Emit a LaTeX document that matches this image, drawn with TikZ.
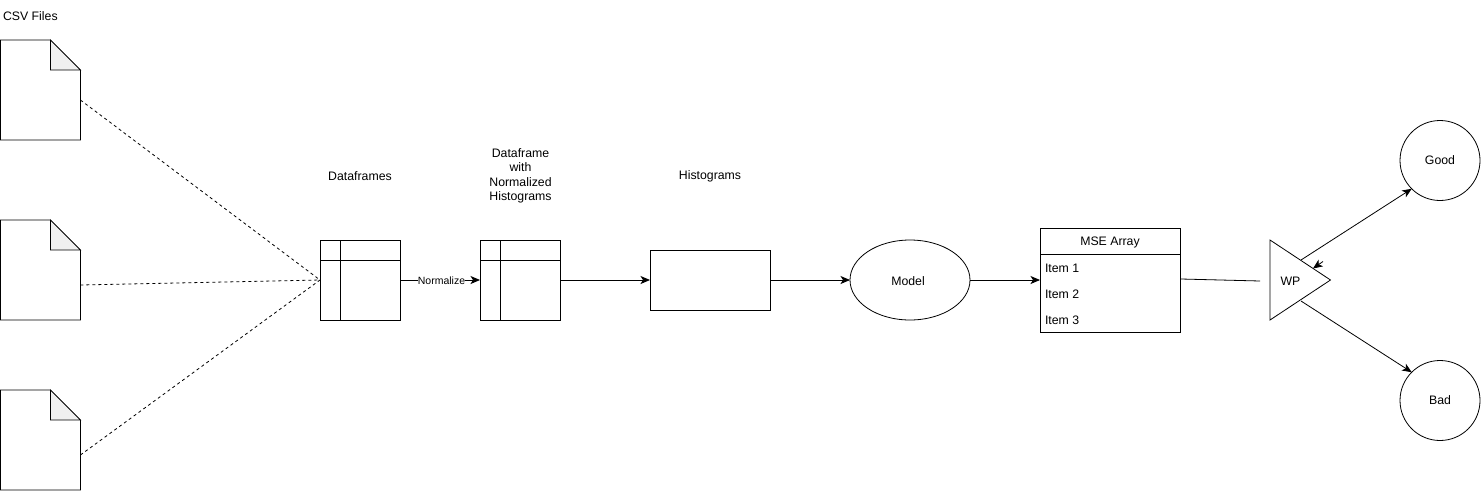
\documentclass[tikz,border=0pt]{standalone}
\usepackage{fontspec}
\setmainfont{Liberation Sans}
\usetikzlibrary{arrows.meta,calc,shapes.geometric}
\tikzset{
  every node/.style={font=\fontsize{12.3}{14.5}\selectfont,inner sep=0pt,outer sep=0pt},
  box/.style={draw,minimum width=#1},
  filebox/.style={minimum width=80,minimum height=100},
  round/.style={draw,circle,minimum size=80},
  flow/.style={-{Stealth[length=9.5pt,width=8pt,inset=2.5pt]}},
  feed/.style={dash pattern=on 3pt off 3pt},
}
\begin{document}
\begin{tikzpicture}[x=1pt,y=-1pt,line width=0.8pt]
\useasboundingbox (0,0) rectangle (1481,491);
\node[anchor=west] (csvlabel) at (3,16.5) {CSV Files};
\foreach \name/\ypos in {csvA/90,csvB/270,csvC/440}{
  \node[filebox] (\name) at (40.4,\ypos) {};
  \draw (\name.south west) -- (\name.north west) -- ($(\name.north east)+(-30,0)$)
    -- ($(\name.north east)+(0,30)$) -- (\name.south east) -- cycle;
  \draw[fill=black!6] ($(\name.north east)+(-30,0)$) -- ($(\name.north east)+(-30,30)$)
    -- ($(\name.north east)+(0,30)$) -- cycle;
}
\node (framelabel) at (360,176) {Dataframes};
\node[align=center] (normlabel) at (520.5,176) {Dataframe\\with\\Normalized\\Histograms};
\node (histlabel) at (710,176) {Histograms};
\foreach \name/\xpos in {frame/360,normframe/520}{
  \node[box=80,minimum height=80] (\name) at (\xpos,280) {};
  \draw ($(\name.north west)+(20,0)$) -- ($(\name.south west)+(20,0)$);
  \draw ($(\name.north west)+(0,20)$) -- ($(\name.north east)+(0,20)$);
}
\node[box=120,minimum height=60] (hist) at (710,280) {};
\node[draw,ellipse,minimum width=120,minimum height=80] (model) at (910,280) {};
\node at (908,281) {Model};
\node[box=140,minimum height=104] (mse) at (1110,280) {};
\draw ($(mse.north west)+(0,26)$) -- ($(mse.north east)+(0,26)$);
\node (msetitle) at (1110,242) {MSE Array};
\node[anchor=west] (itemA) at (1045,268) {Item 1};
\node[anchor=west] (itemB) at (1045,294) {Item 2};
\node[anchor=west] (itemC) at (1045,320) {Item 3};
\coordinate (mseOut) at (1181,279);
\coordinate (wpIn) at (1260,281);
\coordinate (wpUp) at (1301,260);
\coordinate (wpDown) at (1301,301);
\coordinate (wpStubA) at (1323,261.5);
\coordinate (wpStubB) at (1313,268.5);
\draw (1270,240) -- (1330.5,280) -- (1270,320) -- cycle;
\node (wp) at (1290.5,281) {WP};
\node[round] (good) at (1440,160.5) {Good};
\node[round] (bad) at (1440,400.5) {Bad};
\coordinate (csvAout) at ($(csvA.east)+(0,10)$);
\coordinate (csvBout) at ($(csvB.east)+(0,15)$);
\coordinate (csvCout) at ($(csvC.east)+(0,15)$);
\draw[feed] (csvAout) -- (frame.west);
\draw[feed] (csvBout) -- (frame.west);
\draw[feed] (csvCout) -- (frame.west);
\draw[flow] (frame.east) -- node[fill=white,xshift=1.5,yshift=-1,font=\fontsize{10.5}{12}\selectfont] (normtext) {Normalize} (normframe.west);
\draw[flow] (normframe.east) -- (hist.west);
\draw[flow] (hist.east) -- (model.west);
\draw[flow] (model.east) -- (mse.west);
\draw (mseOut) -- (wpIn);
\draw[flow] (wpUp) -- (good.225);
\draw[flow] (wpDown) -- (bad.135);
\draw[flow] (wpStubA) -- (wpStubB);
\end{tikzpicture}
\end{document}
